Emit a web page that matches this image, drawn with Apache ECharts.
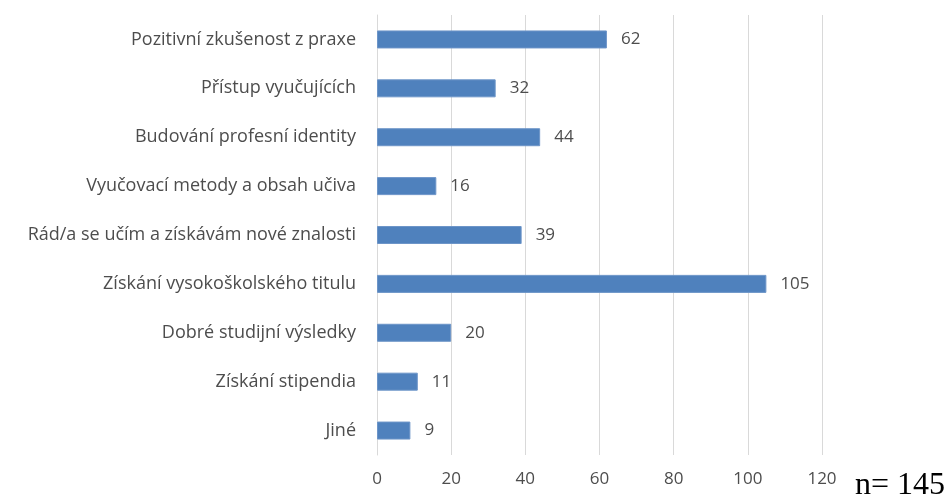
<!DOCTYPE html>
<html>
<head>
<meta charset="utf-8">
<script src="https://cdn.jsdelivr.net/npm/echarts@6/dist/echarts.min.js"></script>
<style>
  html, body { margin: 0; padding: 0; background: #fff; }
  #chart { width: 947px; height: 504px; }
</style>
</head>
<body>
<div id="chart"></div>
<script>
// categories top to bottom
const categories = [
  'Pozitivní zkušenost z praxe',
  'Přístup vyučujících',
  'Budování profesní identity',
  'Vyučovací metody a obsah učiva',
  'Rád/a se učím a získávám nové znalosti',
  'Získání vysokoškolského titulu',
  'Dobré studijní výsledky',
  'Získání stipendia',
  'Jiné'
];
const counts = [62, 32, 44, 16, 39, 105, 20, 11, 9];
const xTicks = [0, 20, 40, 60, 80, 100, 120];
const noteText = 'n= 145';

const textColor = '#4d4d4d';
const font = '"Open Sans", sans-serif';

const myChart = echarts.init(document.getElementById('chart'));
const option = {
  backgroundColor: '#fff',
  animation: false,
  grid: {
    left: 377,
    right: 125,
    top: 15,
    bottom: 49,
    containLabel: false
  },
  xAxis: {
    type: 'value',
    min: xTicks[0],
    max: xTicks[xTicks.length - 1],
    interval: 20,
    axisLine: { show: false },
    axisTick: { show: false },
    axisLabel: { color: textColor, fontFamily: font, fontSize: 17, margin: 16 },
    splitLine: { show: true, lineStyle: { color: '#d9d9d9', width: 1 } }
  },
  yAxis: {
    type: 'category',
    data: categories,
    inverse: true,
    axisLine: { show: true, lineStyle: { color: '#d9d9d9' } },
    axisTick: { show: false },
    axisLabel: { color: textColor, fontFamily: font, fontSize: 18, margin: 21 }
  },
  series: [{
    type: 'bar',
    data: counts,
    barWidth: 18,
    itemStyle: { color: '#4f81bd', borderColor: '#6d95c8', borderWidth: 1 },
    label: {
      show: true,
      position: 'right',
      distance: 14,
      color: textColor,
      fontFamily: font,
      fontSize: 17
    }
  }],
  graphic: [{
    type: 'text',
    right: 2,
    bottom: 2,
    style: {
      text: noteText,
      fontFamily: '"Liberation Serif", "DejaVu Serif", serif',
      fontSize: 32,
      fill: '#000'
    }
  }]
};
myChart.setOption(option);
</script>
</body>
</html>
